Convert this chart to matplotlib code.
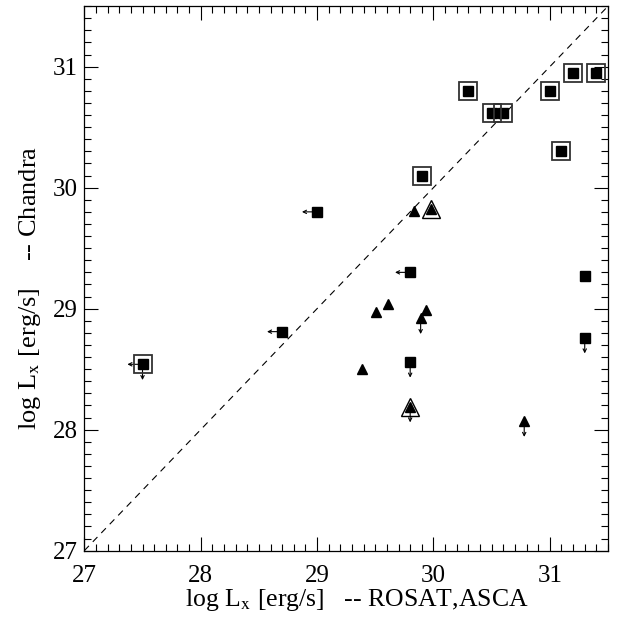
import matplotlib.pyplot as plt
import numpy as np
from matplotlib.ticker import MultipleLocator

plt.rcParams['font.family'] = ['Liberation Serif', 'DejaVu Serif']
plt.rcParams['mathtext.fontset'] = 'stix'

# squares: ROSAT/ASCA vs Chandra
sq_x = [30.3, 30.5, 30.6, 31.0, 31.2, 31.4, 31.1, 29.9, 29.0, 29.8, 31.3, 28.7, 27.5, 29.8, 31.3]
sq_y = [30.8, 30.62, 30.62, 30.8, 30.95, 30.95, 30.3, 30.1, 29.8, 29.3, 29.27, 28.81, 28.54, 28.56, 28.76]
sq_box = [1, 1, 1, 1, 1, 1, 1, 1, 0, 0, 0, 0, 1, 0, 0]
sq_left = [0, 0, 0, 0, 0, 0, 0, 0, 1, 1, 0, 1, 1, 0, 0]
sq_down = [0, 0, 0, 0, 0, 0, 0, 0, 0, 0, 0, 0, 1, 1, 1]

# triangles
tri_x = [29.83, 29.98, 29.61, 29.51, 29.94, 29.89, 29.39, 29.80, 30.78]
tri_y = [29.81, 29.82, 29.04, 28.97, 28.99, 28.92, 28.50, 28.19, 28.07]
tri_box = [0, 1, 0, 0, 0, 0, 0, 1, 0]
tri_down = [0, 0, 0, 0, 0, 1, 0, 1, 1]

fig = plt.figure(figsize=(6.34, 6.18), dpi=100)
ax = fig.add_axes([0.133, 0.109, 0.826, 0.881])

lo, hi = 27.0, 31.5
ax.plot([lo, hi], [lo, hi], 'k', ls=(0, (6, 5)), lw=0.8)

alen = 0.13


def arrows(x, y, left, down):
    for xi, yi, l, d in zip(x, y, left, down):
        if l:
            ax.annotate('', xy=(xi - alen, yi), xytext=(xi, yi),
                        arrowprops=dict(arrowstyle='->', lw=0.8, color='k',
                                        shrinkA=0, shrinkB=0, mutation_scale=6))
        if d:
            ax.annotate('', xy=(xi, yi - alen), xytext=(xi, yi),
                        arrowprops=dict(arrowstyle='->', lw=0.8, color='k',
                                        shrinkA=0, shrinkB=0, mutation_scale=6))


arrows(sq_x, sq_y, sq_left, sq_down)
arrows(tri_x, tri_y, [0] * len(tri_x), tri_down)

sx = np.array(sq_x); sy = np.array(sq_y); sb = np.array(sq_box, bool)
tx = np.array(tri_x); ty = np.array(tri_y); tb = np.array(tri_box, bool)

ax.plot(sx, sy, 's', color='k', ms=7, ls='none', zorder=5)
ax.plot(sx[sb], sy[sb], 's', mfc='none', mec='#333333', mew=1.3, ms=12.3, ls='none', zorder=5, clip_on=False)
ax.plot(tx, ty, '^', color='k', ms=6.5, ls='none', zorder=5)
ax.plot(tx[tb], ty[tb], '^', mfc='none', mec='k', mew=1.0, ms=12.5, ls='none', zorder=5)

ax.set_xlim(lo, hi)
ax.set_ylim(lo, hi)
ax.xaxis.set_major_locator(MultipleLocator(1))
ax.yaxis.set_major_locator(MultipleLocator(1))
ax.xaxis.set_minor_locator(MultipleLocator(0.1))
ax.yaxis.set_minor_locator(MultipleLocator(0.1))
ax.tick_params(which='both', direction='in', top=True, right=True, labelsize=18, width=0.8)
ax.tick_params(axis='x', which='major', length=10, pad=10)
ax.tick_params(axis='y', which='major', length=10, pad=5)
ax.tick_params(which='minor', length=5)
for s in ax.spines.values():
    s.set_linewidth(0.9)

ax.set_xlabel(r'log L$_\mathrm{x}$ [erg/s]   -- ROSAT,ASCA', fontsize=18.5, x=0.52, labelpad=0)
ax.set_ylabel(r'log L$_\mathrm{x}$ [erg/s]    -- Chandra', fontsize=19, y=0.483, labelpad=7)

fig.savefig('out.png', dpi=100)
